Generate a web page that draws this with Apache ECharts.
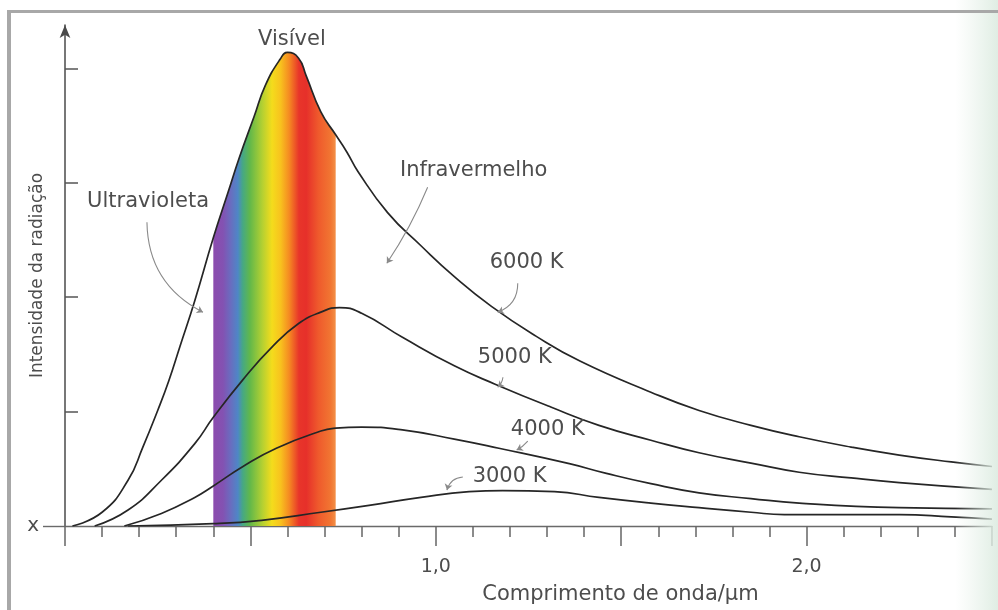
<!DOCTYPE html>
<html><head><meta charset="utf-8">
<script src="https://cdn.jsdelivr.net/npm/echarts@6/dist/echarts.min.js"></script>
<style>html,body{margin:0;padding:0;background:#fff}#c{width:998px;height:610px}</style>
</head><body><div id="c"></div>
<script>
// ---- data (wavelength in µm, relative intensity) ----
const curve6000 = [[0.02,0],[0.10,0.12],[0.17,0.40],[0.21,0.69],[0.25,1.01],[0.28,1.27],[0.31,1.57],[0.35,1.97],[0.40,2.52],[0.44,2.92],[0.47,3.22],[0.51,3.58],[0.54,3.85],[0.58,4.08],[0.60,4.14],[0.63,4.09],[0.65,3.94],[0.69,3.62],[0.73,3.42],[0.76,3.27],[0.79,3.10],[0.87,2.74],[0.96,2.45],[1.05,2.18],[1.15,1.92],[1.27,1.66],[1.39,1.44],[1.58,1.17],[1.71,1.01],[1.85,0.88],[1.98,0.78],[2.12,0.69],[2.25,0.62],[2.39,0.56],[2.50,0.52]];
const curve5000 = [[0.08,0],[0.17,0.14],[0.26,0.40],[0.35,0.72],[0.40,0.95],[0.48,1.28],[0.56,1.57],[0.63,1.77],[0.69,1.87],[0.74,1.91],[0.80,1.86],[0.91,1.65],[1.05,1.40],[1.16,1.24],[1.31,1.04],[1.44,0.88],[1.58,0.75],[1.71,0.64],[1.85,0.55],[1.98,0.47],[2.12,0.42],[2.25,0.38],[2.50,0.32]];
const curve4000 = [[0.16,0],[0.26,0.11],[0.35,0.25],[0.40,0.35],[0.48,0.52],[0.57,0.68],[0.69,0.83],[0.73,0.855],[0.80,0.865],[0.91,0.84],[1.05,0.76],[1.17,0.68],[1.36,0.545],[1.46,0.46],[1.58,0.37],[1.71,0.29],[1.85,0.24],[1.98,0.20],[2.25,0.16],[2.50,0.15]];
const curve3000 = [[0.17,0],[0.40,0.02],[0.53,0.05],[0.69,0.12],[0.82,0.18],[0.96,0.25],[1.09,0.30],[1.18,0.31],[1.32,0.30],[1.44,0.25],[1.58,0.20],[1.71,0.16],[1.85,0.12],[1.94,0.10],[2.07,0.10],[2.25,0.10],[2.39,0.08],[2.50,0.06]];
const visibleRange = [0.40, 0.73];
const xTickLabels = {1: '1,0', 2: '2,0'};
const yTickLabels = {0: 'x'};
const seriesNames = ['6000 K', '5000 K', '4000 K', '3000 K'];

// ---- annotations (data coordinates) ----
const regionLabels = [
  {text: 'Visível', at: [0.612, 4.25]},
  {text: 'Ultravioleta', at: [0.224, 2.84]},
  {text: 'Infravermelho', at: [1.102, 3.11]}
];
const curveLabels = [
  {text: '6000 K', at: [1.245, 2.30]},
  {text: '5000 K', at: [1.213, 1.47]},
  {text: '4000 K', at: [1.302, 0.84]},
  {text: '3000 K', at: [1.199, 0.43]}
];
const pointers = [
  {from: [0.221, 2.655], to: [0.372, 1.869], bend: -0.3},
  {from: [0.978, 2.961], to: [0.868, 2.297], bend: 0.05},
  {from: [1.221, 2.122], to: [1.167, 1.869], bend: 0.35},
  {from: [1.181, 1.301], to: [1.167, 1.214], bend: 0.2},
  {from: [1.248, 0.742], to: [1.218, 0.664], bend: 0.1},
  {from: [1.073, 0.428], to: [1.030, 0.314], bend: -0.35}
];

const FONT = '"DejaVu Sans", sans-serif';
const TXT = '#4d4d4d';
const SMOOTH = 0.5;
const chart = echarts.init(document.getElementById('c'), null, {renderer: 'canvas'});

const bandData = curve6000.filter(p => p[0] >= visibleRange[0] - 1e-9 && p[0] <= visibleRange[1] + 1e-9);
const curves = [curve6000, curve5000, curve4000, curve3000];

const spectrum = new echarts.graphic.LinearGradient(0, 0, 1, 0, [
  {offset: 0.00, color: '#8c4cae'},
  {offset: 0.08, color: '#8352b2'},
  {offset: 0.14, color: '#6a6cbf'},
  {offset: 0.20, color: '#4f86c6'},
  {offset: 0.24, color: '#46a884'},
  {offset: 0.30, color: '#62b84a'},
  {offset: 0.40, color: '#b3d032'},
  {offset: 0.48, color: '#f4dc1c'},
  {offset: 0.55, color: '#f8c21e'},
  {offset: 0.62, color: '#f58a22'},
  {offset: 0.70, color: '#e8352a'},
  {offset: 0.76, color: '#e6302a'},
  {offset: 0.86, color: '#ef5a2c'},
  {offset: 0.96, color: '#f17632'},
  {offset: 1.00, color: '#f39048'}
]);

const option = {
  backgroundColor: '#ffffff',
  animation: false,
  grid: {left: 65, right: 6, top: 25, bottom: 84, containLabel: false, outerBoundsMode: 'none'},
  xAxis: {
    type: 'value', min: 0, max: 2.5, interval: 0.5,
    axisLine: {show: true, onZero: false, lineStyle: {color: '#6a6a6a', width: 1.4}},
    axisTick: {show: true, length: 20, lineStyle: {color: '#666', width: 1.5}},
    minorTick: {show: true, splitNumber: 5, length: 11, lineStyle: {color: '#666', width: 1.5}},
    splitLine: {show: false}, minorSplitLine: {show: false},
    axisLabel: {formatter: v => xTickLabels[Math.round(v * 1000) / 1000] || '', margin: 32,
      fontSize: 19, color: TXT, fontFamily: FONT},
    name: 'Comprimento de onda/µm', nameLocation: 'middle', nameGap: 58, nameMoveOverlap: false,
    nameTextStyle: {fontSize: 21, color: TXT, fontFamily: FONT, padding: [0, 0, 0, 184]}
  },
  yAxis: [{
    type: 'value', min: 0, max: 4.38, interval: 1,
    axisLine: {show: true, symbol: ['none', 'arrow'], symbolSize: [8, 13],
      lineStyle: {color: '#4a4a4a', width: 1.5}},
    axisTick: {show: true, inside: true, length: 13, customValues: [1, 2, 3, 4],
      lineStyle: {color: '#555', width: 1.5}},
    axisLabel: {customValues: [0], formatter: v => yTickLabels[v] || '', margin: 26,
      fontSize: 20, color: TXT, fontFamily: FONT},
    splitLine: {show: false},
    name: 'Intensidade da radiação', nameLocation: 'middle', nameGap: 19, nameMoveOverlap: false,
    nameTextStyle: {fontSize: 17, color: TXT, fontFamily: FONT}
  }, {
    type: 'value', min: 0, max: 4.38, position: 'left',
    axisLine: {show: false},
    axisTick: {show: true, inside: false, length: 22, customValues: [0],
      lineStyle: {color: '#6a6a6a', width: 1.4}},
    axisLabel: {show: false}, splitLine: {show: false}
  }],
  series: [
    {
      name: 'Visível', type: 'line', data: bandData, smooth: SMOOTH,
      showSymbol: false, silent: true, z: 1,
      lineStyle: {width: 0, opacity: 0},
      areaStyle: {color: spectrum, opacity: 1, origin: 'start'}
    }
  ].concat(curves.map((d, i) => ({
    name: seriesNames[i], type: 'line', data: d, smooth: SMOOTH,
    showSymbol: false, silent: true, z: 3,
    lineStyle: {color: '#262626', width: 1.7}
  }))).concat([{
    type: 'lines', coordinateSystem: 'cartesian2d', xAxisIndex: 0, yAxisIndex: 0,
    symbol: ['none', 'arrow'], symbolSize: 6, silent: true, z: 4,
    lineStyle: {color: '#8a8a8a', width: 1.1, opacity: 1},
    data: pointers.map(p => ({coords: [p.from, p.to], lineStyle: {curveness: p.bend}}))
  }])
};
chart.setOption(option);

const g = [
  {type: 'rect', shape: {x: 7, y: 10, width: 991, height: 3}, style: {fill: '#a8a8a8'}, z: 20, silent: true},
  {type: 'rect', shape: {x: 7, y: 10, width: 4, height: 600}, style: {fill: '#a8a8a8'}, z: 20, silent: true},
  {type: 'rect', shape: {x: 955, y: 0, width: 43, height: 610}, silent: true, z: 19,
    style: {fill: new echarts.graphic.LinearGradient(0, 0, 1, 0, [
      {offset: 0, color: 'rgba(228,240,231,0)'},
      {offset: 1, color: 'rgba(222,236,226,0.95)'}])}}
];
regionLabels.concat(curveLabels).forEach(l => {
  const p = chart.convertToPixel({gridIndex: 0}, l.at);
  g.push({type: 'text', x: p[0], y: p[1], z: 10, silent: true,
    style: {text: l.text, fill: TXT, fontSize: 21, fontFamily: FONT, align: 'center', verticalAlign: 'middle'}});
});
chart.setOption({graphic: g});
</script></body></html>
